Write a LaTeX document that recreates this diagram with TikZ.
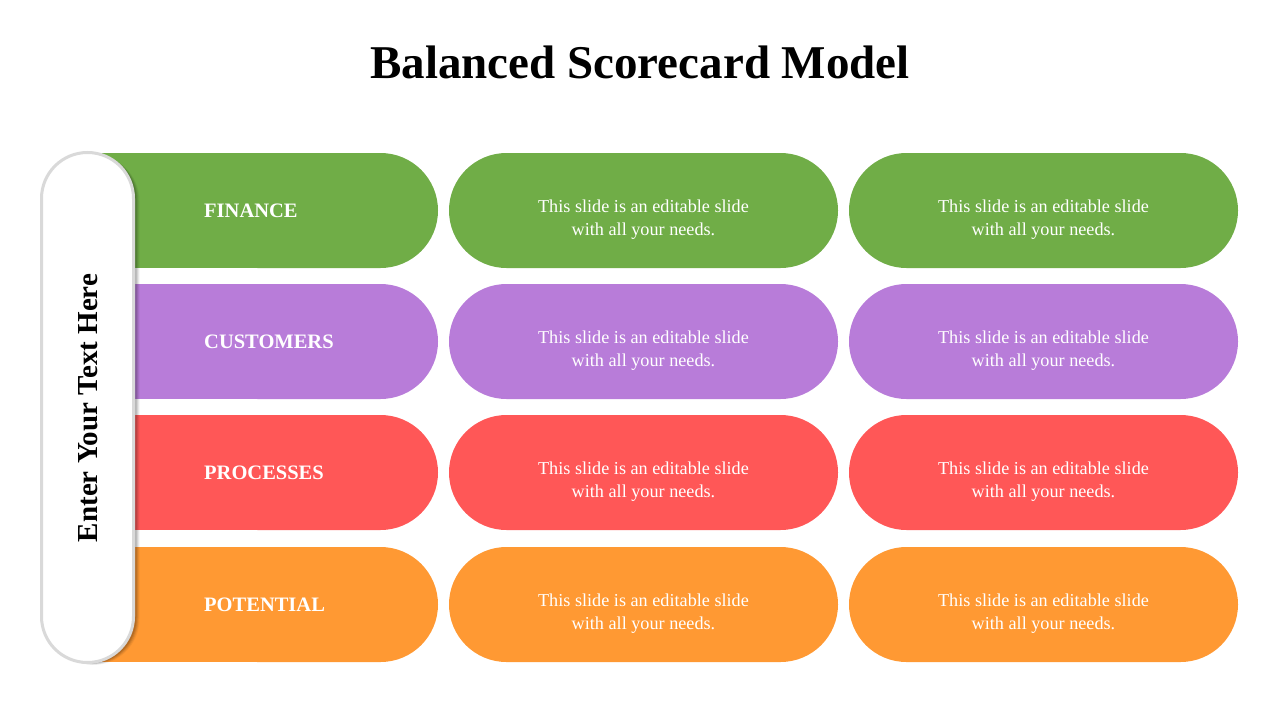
\documentclass[tikz,border=0pt]{standalone}
\usepackage{fontspec}
\setmainfont{Liberation Serif}
\usetikzlibrary{calc}
\definecolor{cgreen}{HTML}{70AD47}
\definecolor{cpurple}{HTML}{B87CD9}
\definecolor{cred}{HTML}{FF5757}
\definecolor{corange}{HTML}{FF9933}
\definecolor{pillgray}{HTML}{D9D9D9}
\tikzset{
  cell/.style={draw=none, rounded corners=57.5pt, minimum width=389pt, minimum height=115pt, inner sep=0pt,
    text=white, align=center},
  celltext/.style={text=white, align=center, inner sep=0pt, font=\fontsize{18.2}{23}\selectfont},
  label/.style={text=white, anchor=west, inner sep=0pt, font=\bfseries\fontsize{20.5}{24}\selectfont},
}
\begin{document}
\begin{tikzpicture}[x=1pt,y=-1pt]
\useasboundingbox (0,0) rectangle (1280,720);
\fill[white] (0,0) rectangle (1280,720);
\node[font=\bfseries\fontsize{47}{52}\selectfont, anchor=base] (title) at (640,78) {Balanced Scorecard Model};
% rows
\foreach \y/\c/\t [count=\i] in {153/cgreen/FINANCE,284/cpurple/CUSTOMERS,415/cred/PROCESSES,547/corange/POTENTIAL}{
  \fill[\c, rounded corners=57.5pt] (200,\y) rectangle (438,\y+115);
  \fill[\c] (88,\y) rectangle (320,\y+115);
  \node[label] (lab\i) at (204,\y+57.5) {\t};
  \node[cell, fill=\c] (m\i) at (643.5,\y+57.5) {};
  \node[celltext] (mt\i) at (643.5,\y+67) {This slide is an editable slide\\with all your needs.};
  \node[cell, fill=\c] (r\i) at (1043.5,\y+57.5) {};
  \node[celltext] (rt\i) at (1043.5,\y+67) {This slide is an editable slide\\with all your needs.};
}
% white pill with soft shadow
\foreach \k/\o in {6/0.05,5/0.07,4/0.09,3/0.11}{
  \fill[black, opacity=\o, rounded corners=46pt] (41.5+\k,152.5+\k*0.4) rectangle (133.5+\k,662.5+\k*0.4);
}
\draw[pillgray, line width=3pt, fill=white, rounded corners=46pt] (41.5,152.5) rectangle (133.5,662.5);
\node[rotate=90, font=\bfseries\fontsize{29}{32}\selectfont] (side) at (88,408) {Enter Your Text Here};
\end{tikzpicture}
\end{document}
